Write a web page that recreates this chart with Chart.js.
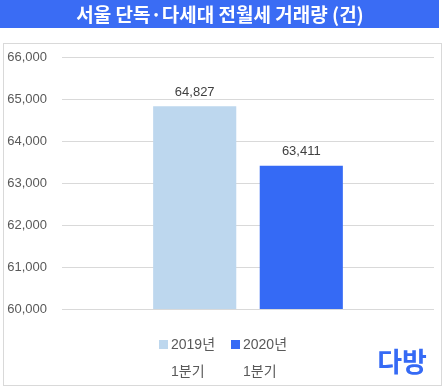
<!DOCTYPE html>
<html>
<head>
<meta charset="utf-8">
<script src="https://cdn.jsdelivr.net/npm/chart.js@4.4.1/dist/chart.umd.min.js"></script>
<style>
  html, body { margin: 0; padding: 0; background: #fff; }
  canvas { display: block; }
</style>
</head>
<body>
<canvas id="myChart" width="446" height="392"></canvas>
<script>
const titleText = '서울 단독·다세대 전월세 거래량 (건)';
const categories = [''];
const seriesNames = [['2019년', '1분기'], ['2020년', '1분기']];
const seriesValues = [[64827], [63411]];
const seriesColors = ['#bdd7ee', '#356af5'];
const yMin = 60000;
const yMax = 66000;
const yStep = 1000;

const fontFamily = '"Liberation Sans", Arial, "Noto Sans CJK KR", sans-serif';
const fmt = v => v.toLocaleString('en-US');

// banner, frame, value labels, legend, logo
const decorations = {
  id: 'decorations',
  beforeDraw(chart) {
    const c = chart.ctx;
    c.save();
    c.fillStyle = '#fff';
    c.fillRect(0, 0, chart.width, chart.height);
    c.fillStyle = '#3a6cf4';
    c.fillRect(0, 0, 439, 28);
    c.fillStyle = '#fff';
    c.font = 'bold 19px "Noto Sans CJK KR", sans-serif';
    c.textAlign = 'center';
    c.textBaseline = 'middle';
    c.fillText(titleText, 220, 15);
    c.strokeStyle = '#d9d9d9';
    c.lineWidth = 1;
    c.strokeRect(3.5, 43.5, 438, 342);
    c.restore();
  },
  afterDatasetsDraw(chart) {
    const c = chart.ctx;
    c.save();
    c.fillStyle = '#404040';
    c.font = '13px ' + fontFamily;
    c.textAlign = 'center';
    c.textBaseline = 'middle';
    chart.data.datasets.forEach((ds, i) => {
      const bar = chart.getDatasetMeta(i).data[0];
      c.fillText(fmt(ds.data[0]), bar.x, bar.y - 14);
    });

    // legend
    const legendX = [159, 231];
    c.textAlign = 'left';
    c.font = '14px ' + fontFamily;
    chart.data.datasets.forEach((ds, i) => {
      c.fillStyle = ds.backgroundColor;
      c.fillRect(legendX[i], 340, 9, 9);
      c.fillStyle = '#595959';
      c.fillText(ds.label[0], legendX[i] + 12, 345);
      c.fillText(ds.label[1], legendX[i] + 12, 372);
    });

    // logo
    c.fillStyle = '#356af5';
    c.font = 'bold 27px "Noto Sans CJK KR", sans-serif';
    c.textAlign = 'center';
    c.fillText('다방', 402, 362);
    c.restore();
  }
};

const ctx = document.getElementById('myChart');

const myChart = new Chart(ctx, {
  type: 'bar',
  data: {
    labels: categories,
    datasets: seriesNames.map((name, i) => ({
      label: name,
      data: seriesValues[i],
      backgroundColor: seriesColors[i],
      borderWidth: 0,
      categoryPercentage: 0.573,
      barPercentage: 0.78
    }))
  },
  options: {
    responsive: false,
    animation: false,
    layout: {
      padding: { left: 0, right: 12, top: 57, bottom: 83 }
    },
    plugins: {
      legend: { display: false },
      title: { display: false },
      tooltip: { enabled: false }
    },
    scales: {
      x: {
        display: false
      },
      y: {
        min: yMin,
        max: yMax,
        afterFit(scale) { scale.width = 62; },
        border: { display: false },
        grid: {
          color: '#d9d9d9',
          drawTicks: false
        },
        ticks: {
          stepSize: yStep,
          padding: 15,
          color: '#595959',
          font: { size: 13, family: fontFamily },
          callback: v => fmt(v)
        }
      }
    }
  },
  plugins: [decorations]
});
</script>
</body>
</html>
